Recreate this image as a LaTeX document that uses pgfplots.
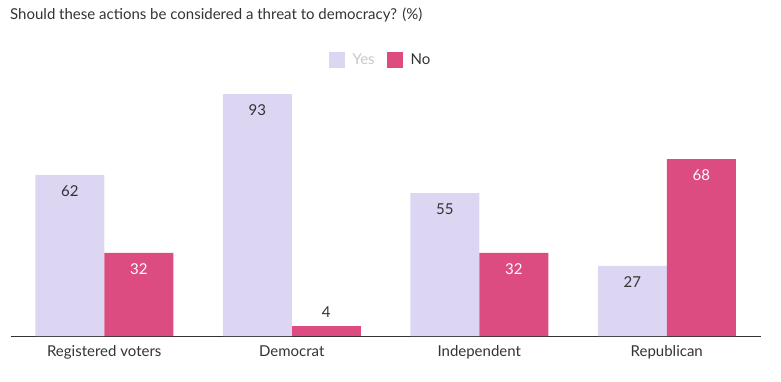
\documentclass[border=0pt]{standalone}
\usepackage{fontspec}
\setmainfont{Lato}
\usepackage{pgfplots}
\pgfplotsset{compat=1.18}
\definecolor{yescol}{HTML}{DCD6F2}
\definecolor{nocol}{HTML}{DC4C80}
\definecolor{txt}{HTML}{333333}
\definecolor{legg}{HTML}{C8C8C8}
\begin{document}
\begin{tikzpicture}[x=1pt,y=1pt]
\path[use as bounding box] (0,0) rectangle (781,381);
\node[anchor=west, text=txt, font=\fontsize{15}{17}\selectfont, inner sep=0pt] at (10,366) {Should these actions be considered a threat to democracy? (\%)};
\begin{axis}[
  at={(10.5pt,45pt)}, anchor=south west,
  scale only axis, width=750pt, height=260pt,
  ymin=0, ymax=100, xmin=-0.5, xmax=3.5,
  ybar, bar width=69pt,
  axis x line=bottom, axis y line=none,
  x axis line style={-, draw=txt, line width=0.9pt},
  xtick=data, xticklabels={Registered voters,Democrat,Independent,Republican},
  major tick length=0pt,
  xticklabel style={text=txt, font=\fontsize{15}{17}\selectfont, yshift=-6pt},
  /pgf/number format/assume math mode=true,
  nodes near coords,
  every node near coord/.append style={font=\fontsize{15}{17}\selectfont, anchor=center, yshift=-16pt},
  legend style={at={(370pt,276pt)}, anchor=center, draw=none, legend columns=2,
    font=\fontsize{15}{17}\selectfont, column sep=6pt,
    /tikz/every even column/.append style={column sep=10pt}},
  legend image code/.code={\fill[#1,draw=none] (0pt,-8pt) rectangle (16pt,8pt);},
  clip=false,
]
\addplot[fill=yescol, draw=none, bar shift=-34.5pt, every node near coord/.append style={text=txt}]
  coordinates {(0,62) (1,93) (2,55) (3,27)};
\addlegendentry{\textcolor{legg}{Yes}}
\addplot[fill=nocol, draw=none, bar shift=34.5pt, every node near coord/.append style={text=white}]
  coordinates {(0,32) (2,32) (3,68)};
\addlegendentry{\textcolor{txt}{No}}
\addplot[fill=nocol, draw=none, bar shift=34.5pt, forget plot, every node near coord/.append style={text=txt, yshift=29pt}]
  coordinates {(1,4)};
\end{axis}
\end{tikzpicture}
\end{document}
